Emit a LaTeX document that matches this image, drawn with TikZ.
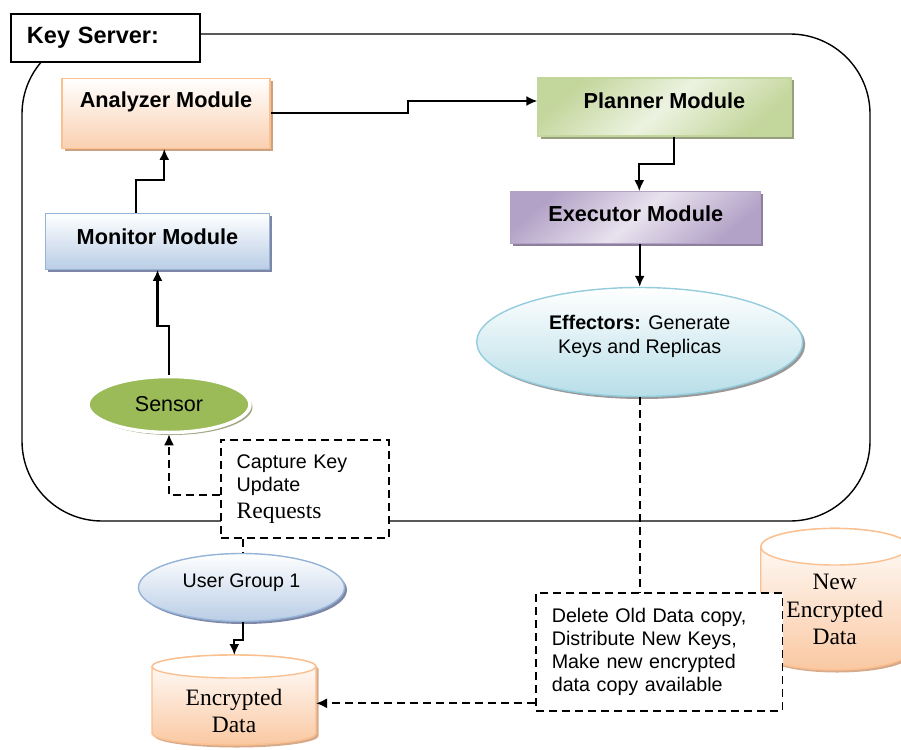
\documentclass[tikz,border=0pt]{standalone}
\usepackage{fontspec}
\setmainfont{Liberation Serif}
\setsansfont{Liberation Sans}
\usepackage{tikz}
\usetikzlibrary{arrows.meta}
\usetikzlibrary{shapes,shadows}
\usetikzlibrary{positioning}
\usepackage{xcolor}

\definecolor{anaborder}{RGB}{250,192,143}
\definecolor{anafill}{RGB}{250,208,176}
\definecolor{anashadow}{RGB}{205,160,128}
\definecolor{pldark}{RGB}{195,214,155}
\definecolor{pllight}{RGB}{236,242,224}
\definecolor{plshadow}{RGB}{150,160,128}
\definecolor{exdark}{RGB}{179,162,199}
\definecolor{exlight}{RGB}{232,226,238}
\definecolor{exshadow}{RGB}{140,128,156}
\definecolor{monborder}{RGB}{149,179,215}
\definecolor{monfill}{RGB}{185,205,229}
\definecolor{monshadow}{RGB}{125,135,165}
\definecolor{effborder}{RGB}{147,205,221}
\definecolor{efffill}{RGB}{183,222,232}
\definecolor{sensorgreen}{RGB}{155,187,89}
\definecolor{sensorshadow}{RGB}{160,165,130}
\definecolor{cylborder}{RGB}{250,192,144}
\definecolor{cylfill}{RGB}{250,200,162}
\definecolor{cylshadow}{RGB}{215,170,140}

\tikzset{
  module/.style={draw=#1, line width=1.2pt, rectangle, inner sep=0pt, text height=16pt,
    font=\sffamily\bfseries\fontsize{21.7}{26}\selectfont},
  txt/.style={font=\sffamily\fontsize{19.7}{23.1}\selectfont},
  serif/.style={font=\rmfamily\fontsize{23.5}{27.5}\selectfont},
  conn/.style={line width=2.1pt, -{Latex[length=11pt,width=10pt]}},
  dashline/.style={line width=1.9pt, dash pattern=on 8pt off 5pt},
  dasharrow/.style={dashline, -{Latex[length=11pt,width=10pt]}},
  notebox/.style={draw, dashline, fill=white, align=left, inner xsep=16pt, txt},
  shadowed/.style={drop shadow={shadow xshift=2.5pt, shadow yshift=-2.5pt, fill=#1, opacity=1}}
}

\begin{document}
\begin{tikzpicture}[x=1pt,y=-1pt]
\useasboundingbox (0,0) rectangle (901,749);

% key server frame
\draw[line width=1.4pt, rounded corners=80pt] (22,34) rectangle (870,521);
\node[draw, line width=1.4pt, fill=white, minimum width=189pt, minimum height=48pt, text width=157pt,
  inner xsep=16pt, align=left, font=\sffamily\bfseries\fontsize{23.5}{27}\selectfont] (keysrv) at (105.5,38) {Key Server:};

% modules
\node[module=anaborder, top color=white, bottom color=anafill, shadowed=anashadow,
  minimum width=208pt, minimum height=70pt, text depth=28pt] (analyzer) at (166,113.3) {Analyzer Module};
\node[module=pldark, top color=pldark, bottom color=pldark, middle color=pllight, shading angle=40, shadowed=plshadow,
  minimum width=253pt, minimum height=58pt, text depth=12.6pt] (planner) at (664.5,107) {Planner Module};
\node[module=exdark, top color=exdark, bottom color=exdark, middle color=exlight, shading angle=40, shadowed=exshadow,
  minimum width=250pt, minimum height=52pt, text depth=8.2pt] (executor) at (635.7,217.8) {Executor Module};
\node[module=monborder, top color=white, bottom color=monfill, shadowed=monshadow,
  minimum width=224pt, minimum height=56pt, text depth=10pt] (monitor) at (157.5,241.3) {Monitor Module};

% ellipses
\node[ellipse, draw=effborder, line width=1.4pt, top color=white, bottom color=efffill, shadowed=black!40,
  minimum width=326pt, minimum height=109pt, inner sep=0pt] (effectors) at (639.7,342) {};
\node[txt, align=center] (efftext) at (639.7,336.4) {\textbf{Effectors:} Generate\\Keys and Replicas};
\node[ellipse, draw=white, line width=3.5pt, fill=sensorgreen, shadowed=sensorshadow,
  minimum width=162pt, minimum height=56pt, inner sep=0pt, font=\sffamily\fontsize{21.5}{24}\selectfont] (sensor) at (169,404.5) {Sensor};
\node[ellipse, draw=monborder, line width=1.4pt, top color=white, bottom color=monfill, shadowed=monshadow,
  minimum width=206pt, minimum height=68pt, inner sep=0pt, text height=14pt, text depth=15pt,
  font=\sffamily\fontsize{19.6}{23}\selectfont] (usergrp) at (241.5,587.5) {User Group 1};

% data stores
\path[shade, top color=white, bottom color=cylfill, draw=cylborder, line width=1.4pt, shadowed=cylshadow]
  (760.7,546.7) -- (760.7,651.7) arc[start angle=180, end angle=0, x radius=74, y radius=18.3]
  -- (908.7,546.7) arc[start angle=0, end angle=-180, x radius=74, y radius=18.3] -- cycle;
\draw[cylborder, line width=1.4pt, fill=white] (834.7,546.7) ellipse [x radius=74, y radius=18.3];
\node[serif, align=center] (newdata) at (834.7,609.5) {New\\Encrypted\\Data};

\path[shade, top color=white, bottom color=cylfill, draw=cylborder, line width=1.4pt, shadowed=cylshadow]
  (152,666.5) -- (152,733.5) arc[start angle=180, end angle=0, x radius=82, y radius=11.5]
  -- (316,666.5) arc[start angle=0, end angle=-180, x radius=82, y radius=11.5] -- cycle;
\draw[cylborder, line width=1.4pt, fill=white] (234,666.5) ellipse [x radius=82, y radius=11.5];
\node[serif, align=center] (encdata) at (234,711) {Encrypted\\Data};
\coordinate (encdata-top) at (234.3,655);
\coordinate (encdata-side) at (316,703.3);

% dashed notes
\node[notebox, text width=136pt, minimum height=97.7pt] (capbox) at (304.7,488.9)
  {Capture Key\\Update\\[3.4pt]{\rmfamily\fontsize{23.5}{23.1}\selectfont Requests}};
\node[notebox, text width=215pt, inner xsep=15.7pt, minimum height=117.4pt] (delbox) at (659.3,652)
  {Delete Old Data copy,\\Distribute New Keys,\\Make new encrypted\\data copy available};

% connectors
\draw[conn] (analyzer.east) -- ++(137,0) |- ([yshift=6pt]planner.west);
\draw[conn] ([xshift=-21.5pt]monitor.north) -- ++(0,-32.3) -| ([xshift=-1.7pt]analyzer.south);
\draw[conn] (sensor.north) -- ++(0,-49) -| (monitor.south);
\draw[conn] ([xshift=9.5pt]planner.south) -- ++(0,27.3) -| ([xshift=3.6pt]executor.north);
\draw[conn] (executor.south -| effectors.north) -- (effectors.north);
\draw[dashline] (effectors.south) -- (effectors.south |- delbox.north);
\draw[dasharrow] ([yshift=-6pt]capbox.west) -| (sensor.south);
\draw[dashline] ([xshift=1.5pt]usergrp.north |- capbox.south) -- ([xshift=1.5pt]usergrp.north);
\draw[conn] ([xshift=1.5pt]usergrp.south) -- ++(0,17.5) -| (encdata-top);
\draw[dasharrow] (delbox.west |- encdata-side) -- (encdata-side);
\end{tikzpicture}
\end{document}
